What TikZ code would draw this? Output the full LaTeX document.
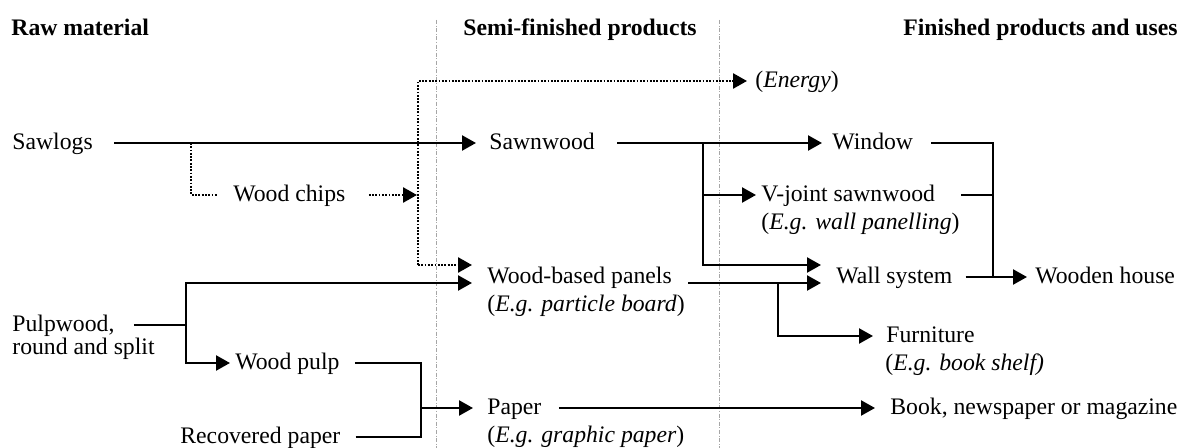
\documentclass[tikz,border=0pt]{standalone}
\usepackage{fontspec}
\setmainfont{Liberation Serif}
\usetikzlibrary{arrows.meta,calc}
\begin{document}
\begin{tikzpicture}[x=0.5pt,y=-0.5pt,
  font=\fontsize{11.85}{14}\selectfont,
  lbl/.style={anchor=west,inner sep=0pt,text height=7pt,text depth=0pt},
  hdr/.style={lbl,font=\fontsize{11.85}{14}\selectfont\bfseries},
  flow/.style={line width=1.2pt,line join=miter},
  tip/.tip={Triangle[length=7pt,width=7.5pt]},
  arr/.style={flow,-tip},
  bothArr/.style={flow,tip-tip},
  dotl/.style={line width=1.3pt,dash pattern=on 0.9pt off 0.75pt},
  darr/.style={dotl,-tip},
  sepline/.style={gray!70,line width=0.45pt,dash pattern=on 2pt off 0.8pt on 0.5pt off 0.8pt}]
\useasboundingbox (0,0) rectangle (1188,448);
\fill[white] (0,0) rectangle (1188,448);

% column separators
\coordinate (s1top) at (436,20);
\coordinate (s1bot) at (436,448);
\coordinate (s2top) at (719,20);
\coordinate (s2bot) at (719,448);
\draw[sepline] (s1top) -- (s1bot);
\draw[sepline] (s2top) -- (s2bot);

% headers
\node[hdr] (raw) at (11,29) {Raw material};
\node[hdr] (semi) at (463,29) {Semi-finished products};
\node[hdr,anchor=east] (fin) at (1178,29) {Finished products and uses};

% labels
\node[lbl] (sawlogs) at (12,143) {Sawlogs};
\node[lbl] (sawnwood) at (489,143) {Sawnwood};
\node[lbl] (window) at (832,143) {Window};
\node[lbl] (energy) at (755,81) {(\textit{Energy})};
\node[lbl] (woodchips) at (233,195) {Wood chips};
\node[lbl] (vjoint) at (761,195) {V-joint sawnwood};
\node[lbl] (vjointeg) at (761,223) {(\textit{E.g. wall panelling})};
\node[lbl] (woodbased) at (487,277) {Wood-based panels};
\node[lbl] (woodbasedeg) at (487,305) {(\textit{E.g. particle board})};
\node[lbl] (wallsys) at (836,277) {Wall system};
\node[lbl] (house) at (1035,277) {Wooden house};
\node[lbl] (pulpwood) at (12,325) {Pulpwood,};
\node[lbl] (pulpround) at (12,348) {round and split};
\node[lbl] (woodpulp) at (235,363) {Wood pulp};
\node[lbl] (furniture) at (886,336) {Furniture};
\node[lbl] (furnitureeg) at (885,364) {(\textit{E.g. book shelf)}};
\node[lbl] (paper) at (487,408) {Paper};
\node[lbl] (papereg) at (487,436) {(\textit{E.g. graphic paper})};
\node[lbl] (book) at (890,408) {Book, newspaper or magazine};
\node[lbl] (recovered) at (180,437) {Recovered paper};

% junctions
\coordinate (chipsplit) at (191,143);
\coordinate (dtop) at (418,81);
\coordinate (dbot) at (418,265);
\coordinate (swsplit) at (703,143);
\coordinate (pulpsplit) at (186,325);
\coordinate (wbsplit) at (778,283);
\coordinate (housejoin) at (993,277);
\coordinate (paperjoin) at (421,408);

% sawlogs line and wood chips
\draw[arr] ($(sawlogs.east)+(21,0)$) -- ($(sawnwood.west)+(-13,0)$);
\draw[dotl] (chipsplit) |- ($(woodchips.west)+(-15,0)$);
\draw[darr] ($(woodchips.east)+(23,0)$) -- ($(dtop |- woodchips.west)+(-1,0)$);
\draw[darr] (dbot) -- (dtop) -- ($(energy.west)+(-8,0)$);
\draw[darr] (dbot) -- ($(woodbased.west)+(-15,-12)$);

% sawnwood
\draw[arr] ($(sawnwood.east)+(22,0)$) -- ($(window.west)+(-10,0)$);
\draw[arr] (swsplit) |- ($(wallsys.west)+(-15,-12)$);
\draw[arr] (swsplit |- vjoint.west) -- ($(vjoint.west)+(-5,0)$);

% wood-based panels
\draw[arr] ($(woodbased.east)+(16,6)$) -- ($(wallsys.west)+(-15,6)$);
\draw[arr] (wbsplit) |- ($(furniture.west)+(-13,0)$);

% pulpwood
\draw[flow] ($(pulpwood.east)+(19,0)$) -- (pulpsplit);
\draw[bothArr] ($(woodbased.west)+(-15,6)$) -| (pulpsplit) |- ($(woodpulp.west)+(-5,0)$);

% wooden house bracket
\draw[flow] ($(window.east)+(18,0)$) -| (housejoin);
\draw[flow] ($(vjoint.east)+(26,0)$) -- (housejoin |- vjoint.west);
\draw[arr] ($(wallsys.east)+(13,0)$) -- ($(house.west)+(-8,0)$);

% paper
\draw[flow] ($(woodpulp.east)+(15,0)$) -| (paperjoin);
\draw[flow] ($(recovered.east)+(15,0)$) -| (paperjoin);
\draw[arr] (paperjoin) -- ($(paper.west)+(-14,0)$);
\draw[arr] ($(paper.east)+(17,0)$) -- ($(book.west)+(-15,0)$);
\end{tikzpicture}
\end{document}
